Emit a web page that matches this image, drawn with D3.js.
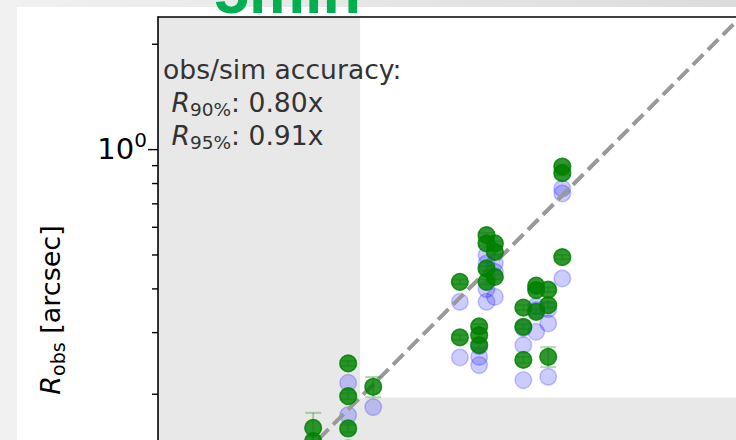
<!DOCTYPE html>
<html><head><meta charset="utf-8">
<script src="https://cdn.jsdelivr.net/npm/d3@7"></script>
<style>
html,body{margin:0;padding:0;}
body{width:736px;height:440px;overflow:hidden;background:linear-gradient(90deg,#f1f1f1 0%,#e6e6e6 50%,#dcdcdc 100%);}
svg{display:block;}
text{font-family:"DejaVu Sans",sans-serif;}
</style></head><body>
<svg id="c" width="736" height="440"></svg>
<script>
// ---------- data ----------
// observed radius (green) : x = simulated radius, y = observed radius [arcsec]
const obsX = [0.1432,0.1432, 0.1803,0.1803,0.1803, 0.2126, 0.3759,0.3759,
              0.4269,0.4269,0.4269, 0.4480,0.4480,0.4480,0.4480, 0.4733,0.4733,0.4733,
              0.5708,0.5708,0.5708, 0.6210,0.6210,0.6210, 0.6723,0.6723,0.6723,
              0.7375,0.7375,0.7375];
const obsY = [0.1598,0.1464, 0.2442,0.1969,0.1592, 0.2094, 0.4176,0.2897,
              0.3114,0.2941,0.2754, 0.5679,0.5378,0.4561,0.4176, 0.5378,0.5087,0.4315,
              0.3525,0.3107,0.2500, 0.4074,0.3955,0.3429, 0.3966,0.3583,0.2550,
              0.8918,0.8539,0.4913];
const obsErr = [0.0166,0.004, 0.004,0.004,0.004, 0.0140, 0.006,0.005,
                0.005,0.005,0.005, 0.008,0.008,0.007,0.007, 0.008,0.007,0.007,
                0.006,0.005,0.005, 0.006,0.006,0.005, 0.006,0.006,0.0168,
                0.012,0.012,0.007];
// scaled simulation (blue)
const simX = obsX;
const simY = [0.1400,0.1280, 0.2149,0.1738,0.1398, 0.1832, 0.3663,0.2540,
              0.2736,0.2550,0.2415, 0.4979,0.4714,0.3981,0.3663, 0.4724,0.4462,0.3784,
              0.3081,0.2754,0.2188, 0.3558,0.3467,0.3006, 0.3490,0.3177,0.2236,
              0.7722,0.7470,0.4271];
const threshold = 0.195;           // shaded (unresolved) limit
const yMinorTicks = [0.2,0.3,0.4,0.5,0.6,0.7,0.8,0.9,2];
const yMajorTicks = [1];
const titleText = "5min";
const yLabel = {sym:"R", sub:"obs", rest:" [arcsec]"};
const noteLines = [
  {pre:"obs/sim accuracy:", sym:"", sub:"", post:""},
  {pre:" ", sym:"R", sub:"90%", post:": 0.80x"},
  {pre:" ", sym:"R", sub:"95%", post:": 0.91x"}
];

// ---------- layout ----------
const svg = d3.select("#c");
const axL = 158, axT = 17, axR = 800, axB = 520;
const x = d3.scaleLog().domain([0.0516, 3]).range([axL, axL + 350*Math.log10(3/0.0516)]);
const y = d3.scaleLog().domain([0.1, 2.385]).range([axT + 350*Math.log10(23.85), axT]);

// figure background (white area)
svg.append("rect").attr("x",17).attr("y",7).attr("width",736).attr("height",440).attr("fill","#fff");

svg.append("clipPath").attr("id","clip").append("rect")
  .attr("x",axL).attr("y",axT).attr("width",axR-axL).attr("height",axB-axT);
const g = svg.append("g").attr("clip-path","url(#clip)");

// shaded regions
g.append("rect").attr("x",axL).attr("y",axT)
  .attr("width",x(threshold)-axL).attr("height",axB-axT).attr("fill","#e8e8e8");
g.append("rect").attr("x",axL).attr("y",y(threshold))
  .attr("width",axR-axL).attr("height",axB-y(threshold)).attr("fill","#e8e8e8");

// blue points
g.selectAll("circle.sim").data(simY).join("circle").attr("class","sim")
  .attr("cx",(d,i)=>x(simX[i])).attr("cy",d=>y(d)).attr("r",8.3)
  .attr("fill","rgba(0,0,255,0.2)").attr("stroke","rgba(0,0,255,0.2)").attr("stroke-width",1.6);

// 1:1 line
g.append("line").attr("x1",x(0.05)).attr("y1",y(0.05)).attr("x2",x(3)).attr("y2",y(3))
  .attr("stroke","#999").attr("stroke-width",4).attr("stroke-dasharray","14.8,6.4");

// error bars
const eb = g.append("g").attr("stroke","rgba(0,128,0,0.3)").attr("stroke-width",2);
obsY.forEach((v,i)=>{
  const cx = x(obsX[i]), lo = y(v-obsErr[i]), hi = y(v+obsErr[i]);
  eb.append("line").attr("x1",cx).attr("x2",cx).attr("y1",lo).attr("y2",hi);
  eb.append("line").attr("x1",cx-8).attr("x2",cx+8).attr("y1",lo).attr("y2",lo);
  eb.append("line").attr("x1",cx-8).attr("x2",cx+8).attr("y1",hi).attr("y2",hi);
});

// green points
g.selectAll("circle.obs").data(obsY).join("circle").attr("class","obs")
  .attr("cx",(d,i)=>x(obsX[i])).attr("cy",d=>y(d)).attr("r",8.3)
  .attr("fill","rgba(0,128,0,0.82)").attr("stroke","rgba(0,128,0,0.82)").attr("stroke-width",1.6);

// spines
svg.append("line").attr("x1",axL).attr("x2",axL).attr("y1",axT-0.8).attr("y2",axB).attr("stroke","#000").attr("stroke-width",1.6);
svg.append("line").attr("x1",axL).attr("x2",axR).attr("y1",axT).attr("y2",axT).attr("stroke","#000").attr("stroke-width",1.6);

// y ticks
const yAxisMinor = d3.axisLeft(y).tickValues(yMinorTicks).tickSize(6).tickFormat("");
const yAxisMajor = d3.axisLeft(y).tickValues(yMajorTicks).tickSize(10).tickFormat("");
[yAxisMinor,yAxisMajor].forEach(a=>{
  const ga = svg.append("g").attr("transform",`translate(${axL},0)`).call(a);
  ga.select(".domain").remove();
  ga.selectAll("line").attr("stroke","#000").attr("stroke-width",1.4);
});
yMajorTicks.forEach(v=>{
  const t = svg.append("text").attr("x",147).attr("y",y(v)+10).attr("text-anchor","end")
    .attr("font-size",29).attr("fill","#000");
  t.append("tspan").text("10");
  t.append("tspan").attr("font-size",20).attr("dy",-12).text(Math.round(Math.log10(v)));
});

// y label
const yl = svg.append("text").attr("transform","translate(60,310) rotate(-90)")
  .attr("text-anchor","middle").attr("font-size",27).attr("fill","#000");
yl.append("tspan").attr("font-style","italic").text(yLabel.sym);
yl.append("tspan").attr("font-size",19).attr("dy",5).text(yLabel.sub);
yl.append("tspan").attr("dy",-5).text(yLabel.rest);

// annotation
const baselines = [79, 112, 145];
noteLines.forEach((L,i)=>{
  const t = svg.append("text").attr("x",163).attr("y",baselines[i]).attr("font-size",26.6)
    .attr("fill","#333").attr("xml:space","preserve").style("white-space","pre");
  t.append("tspan").text(L.pre);
  if (L.sym){
    t.append("tspan").attr("font-style","italic").text(L.sym);
    t.append("tspan").attr("font-size",18.5).attr("dy",4).text(L.sub);
    t.append("tspan").attr("dy",-4).text(L.post);
  }
});

// title (cut at the top, as in the reference)
svg.append("text").attr("x",214).attr("y",13)
  .style("font-family","'Liberation Sans',Arial,sans-serif")
  .attr("font-weight","bold").attr("font-size",63).attr("fill","#00b050").text(titleText);
</script>
</body></html>
